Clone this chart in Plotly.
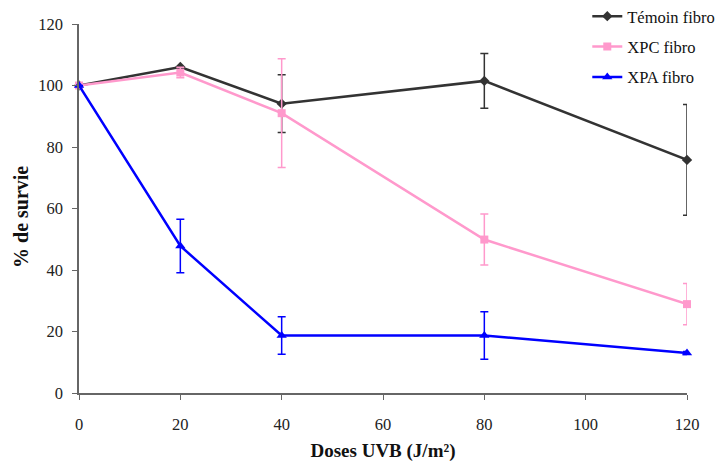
import plotly.graph_objects as go

doses = [0, 20, 40, 80, 120]
temoin = [100, 106, 94.1, 101.5, 75.8]
temoin_err = [0, 0, 9.4, 8.9, 18.0]
xpc = [100, 104.2, 91.0, 49.9, 28.9]
xpc_err = [0, 1.7, 17.7, 8.3, 6.7]
xpa = [100, 47.8, 18.7, 18.7, 13.0]
xpa_err = [0, 8.7, 6.1, 7.7, 0.5]

x_ticks = [0, 20, 40, 60, 80, 100, 120]
y_ticks = [0, 20, 40, 60, 80, 100, 120]

series = [
    ("Témoin fibro", temoin, temoin_err, "#333333", "diamond", 8),
    ("XPC fibro", xpc, xpc_err, "#FF99CC", "square", 8),
    ("XPA fibro", xpa, xpa_err, "#0000FF", "triangle-up", 9),
]

fig = go.Figure()
for i, (name, vals, errs, col, sym, sz) in enumerate(series):
    fig.add_trace(go.Scatter(
        x=doses, y=vals, name=name, mode="lines+markers",
        legendgroup=f"g{i}", cliponaxis=False,
        line=dict(color=col, width=2.5),
        marker=dict(symbol=sym, size=sz, color=col),
        error_y=dict(type="data", array=errs, visible=True, color=col,
                     thickness=1.5, width=4),
    ))

font_family = "Liberation Serif, serif"
# the page body has an 8px margin on every side: keep the figure inside 728x470
fig.update_layout(
    width=712, height=454,
    margin=dict(l=71, r=33, t=16, b=69, autoexpand=False),
    paper_bgcolor="white", plot_bgcolor="white",
    font=dict(family=font_family, size=16, color="#222222"),
    showlegend=True,
    legend=dict(x=0.836, y=1.068, xanchor="left", yanchor="top",
                font=dict(family=font_family, size=16.5, color="#111111"),
                bgcolor="rgba(0,0,0,0)", traceorder="grouped",
                tracegroupgap=6, itemwidth=30, borderwidth=0),
    xaxis=dict(range=[0, 120], tickvals=x_ticks, showgrid=False, zeroline=False,
               showline=True, linecolor="#666666", linewidth=1.5,
               ticks="outside", ticklen=5, tickcolor="#666666",
               ticklabelstandoff=10,
               tickfont=dict(family=font_family, size=16.5, color="#222222"),
               title=dict(text="<b>Doses UVB (J/m²)</b>",
                          font=dict(family=font_family, size=19, color="#111111"),
                          standoff=13)),
    yaxis=dict(range=[0, 120], tickvals=y_ticks, showgrid=False, zeroline=False,
               showline=True, linecolor="#666666", linewidth=1.5,
               ticks="outside", ticklen=5, tickcolor="#666666",
               ticklabelstandoff=6,
               tickfont=dict(family=font_family, size=16.5, color="#222222")),
    annotations=[dict(text="<b>% de survie</b>", textangle=-90,
                      xref="paper", yref="paper", x=0, y=0.477,
                      xanchor="center", yanchor="middle", xshift=-58,
                      showarrow=False,
                      font=dict(family=font_family, size=20, color="#111111"))],
)

fig.write_html("out.html")
